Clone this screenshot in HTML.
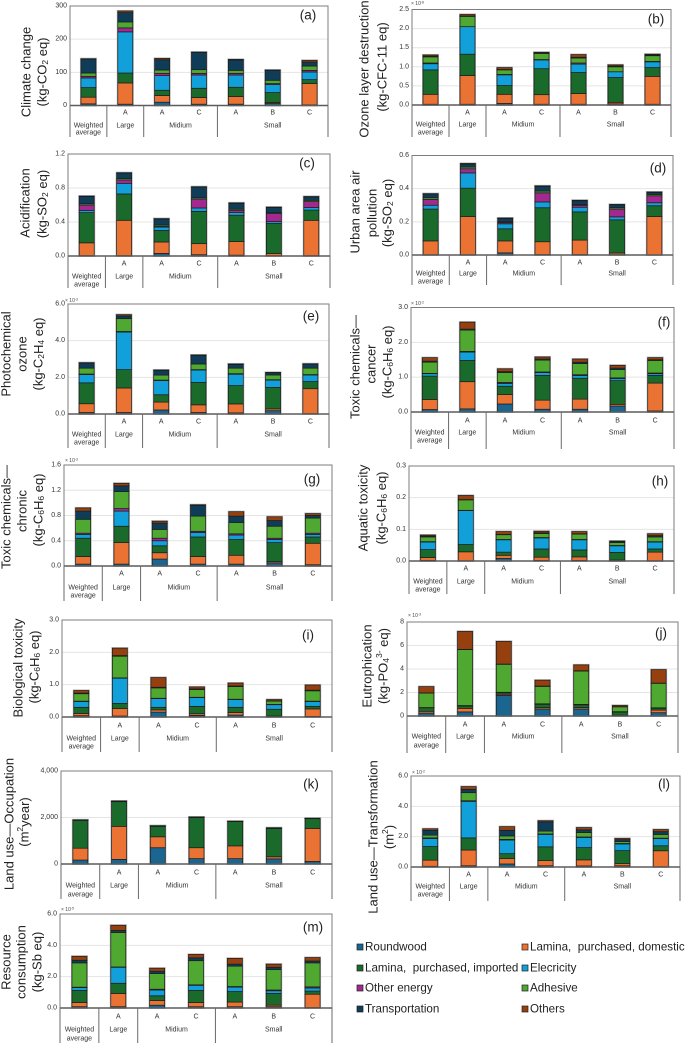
<!DOCTYPE html>
<html lang="en">
<head>
<meta charset="utf-8">
<title>Life cycle impact charts</title>
<style>
html,body{margin:0;padding:0;background:#fff;width:685px;height:1043px;overflow:hidden}
svg{display:block;font-family:"Liberation Sans",sans-serif}
.t{font-size:13px;fill:#222;text-anchor:middle;dominant-baseline:central}
.s{font-size:8.5px}
.tag{font-size:13.5px;fill:#222;text-anchor:middle;dominant-baseline:central}
.mult{font-size:5px;fill:#444}
.mult tspan{font-size:3.5px}
.tick{font-size:7px;fill:#333;text-anchor:end;dominant-baseline:central}
.cat{font-size:7px;fill:#333;text-anchor:middle;dominant-baseline:central}
.leg{font-size:11.6px;fill:#222;dominant-baseline:central;white-space:pre}
</style>
</head>
<body>
<svg id="figure" width="685" height="1043" viewBox="0 0 685 1043" xmlns="http://www.w3.org/2000/svg">
<rect width="685" height="1043" fill="#fff"/>

<!-- y axis titles -->
<text class="t" transform="translate(26,72) rotate(-90)">Climate change</text>
<text class="t" transform="translate(42,72) rotate(-90)">(kg-CO<tspan class="s" dy="3">2</tspan><tspan dy="-3"> eq)</tspan></text>

<text class="t" transform="translate(364,69) rotate(-90)">Ozone layer destruction</text>
<text class="t" transform="translate(382,67) rotate(-90)">(kg-CFC-11 eq)</text>

<text class="t" transform="translate(25,203) rotate(-90)">Acidification</text>
<text class="t" transform="translate(42,204) rotate(-90)">(kg-SO<tspan class="s" dy="3">2</tspan><tspan dy="-3"> eq)</tspan></text>

<text class="t" transform="translate(355,212) rotate(-90)">Urban area air</text>
<text class="t" transform="translate(372,213) rotate(-90)">pollution</text>
<text class="t" transform="translate(387,213) rotate(-90)">(kg-SO<tspan class="s" dy="3">2</tspan><tspan dy="-3"> eq)</tspan></text>

<text class="t" transform="translate(6,354) rotate(-90)">Photochemical</text>
<text class="t" transform="translate(22,354) rotate(-90)">ozone</text>
<text class="t" transform="translate(38,354) rotate(-90)">(kg-C<tspan class="s" dy="3">2</tspan><tspan dy="-3">H</tspan><tspan class="s" dy="3">4</tspan><tspan dy="-3"> eq)</tspan></text>

<text class="t" transform="translate(355,367) rotate(-90)">Toxic chemicals—</text>
<text class="t" transform="translate(371,364) rotate(-90)">cancer</text>
<text class="t" transform="translate(387,362) rotate(-90)">(kg-C<tspan class="s" dy="3">6</tspan><tspan dy="-3">H</tspan><tspan class="s" dy="3">6</tspan><tspan dy="-3"> eq)</tspan></text>

<text class="t" transform="translate(6,517) rotate(-90)">Toxic chemicals—</text>
<text class="t" transform="translate(22,511) rotate(-90)">chronic</text>
<text class="t" transform="translate(38,510) rotate(-90)">(kg-C<tspan class="s" dy="3">6</tspan><tspan dy="-3">H</tspan><tspan class="s" dy="3">6</tspan><tspan dy="-3"> eq)</tspan></text>

<text class="t" transform="translate(363,508) rotate(-90)">Aquatic toxicity</text>
<text class="t" transform="translate(381,508) rotate(-90)">(kg-C<tspan class="s" dy="3">6</tspan><tspan dy="-3">H</tspan><tspan class="s" dy="3">6</tspan><tspan dy="-3"> eq)</tspan></text>

<text class="t" transform="translate(18,668) rotate(-90)">Biological toxicity</text>
<text class="t" transform="translate(34,667) rotate(-90)">(kg-C<tspan class="s" dy="3">6</tspan><tspan dy="-3">H</tspan><tspan class="s" dy="3">6</tspan><tspan dy="-3"> eq)</tspan></text>

<text class="t" transform="translate(367,666) rotate(-90)">Eutrophication</text>
<text class="t" transform="translate(383,666) rotate(-90)">(kg-PO<tspan class="s" dy="3">4</tspan><tspan class="s" dy="-7">3-</tspan><tspan dy="4"> eq)</tspan></text>

<text class="t" transform="translate(9,824) rotate(-90)">Land use—Occupation</text>
<text class="t" transform="translate(24,822) rotate(-90)">(m<tspan class="s" dy="-4">2</tspan><tspan dy="4">year)</tspan></text>

<text class="t" transform="translate(373,837) rotate(-90)">Land use—Transformation</text>
<text class="t" transform="translate(389,837) rotate(-90)">(m<tspan class="s" dy="-4">2</tspan><tspan dy="4">)</tspan></text>

<text class="t" transform="translate(6,962) rotate(-90)">Resource</text>
<text class="t" transform="translate(21,962) rotate(-90)">consumption</text>
<text class="t" transform="translate(37,962) rotate(-90)">(kg-Sb eq)</text>

<!-- scale multipliers -->
<text class="mult" x="411" y="5">× 10<tspan dy="-1.5">-8</tspan></text>
<text class="mult" x="65" y="302">× 10<tspan dy="-1.5">-3</tspan></text>
<text class="mult" x="411" y="305">× 10<tspan dy="-1.5">-2</tspan></text>
<text class="mult" x="65" y="462">× 10<tspan dy="-1.5">-3</tspan></text>
<text class="mult" x="408" y="617">× 10<tspan dy="-1.5">-3</tspan></text>
<text class="mult" x="412" y="774">× 10<tspan dy="-1.5">-2</tspan></text>
<text class="mult" x="61" y="911">× 10<tspan dy="-1.5">-5</tspan></text>

<g id="panels"></g>

<!-- panel tags -->
<text class="tag" x="308" y="15">(a)</text>
<text class="tag" x="656" y="19">(b)</text>
<text class="tag" x="307" y="163">(c)</text>
<text class="tag" x="658" y="168">(d)</text>
<text class="tag" x="311" y="316">(e)</text>
<text class="tag" x="664" y="322">(f)</text>
<text class="tag" x="312" y="479">(g)</text>
<text class="tag" x="660" y="481">(h)</text>
<text class="tag" x="308" y="635">(i)</text>
<text class="tag" x="661" y="633">(j)</text>
<text class="tag" x="311" y="784">(k)</text>
<text class="tag" x="664" y="784">(l)</text>
<text class="tag" x="313" y="927">(m)</text>

<!-- legend -->
<g>
<g><rect x="357" y="944" width="6" height="6" fill="#1b6690" stroke="#222" stroke-width=".7"/><text class="leg" x="365" y="947">Roundwood</text></g>
<g><rect x="522" y="944" width="6" height="6" fill="#ea7333" stroke="#222" stroke-width=".7"/><text class="leg" x="530" y="947">Lamina,  purchased, domestic</text></g>
<g><rect x="357" y="965" width="6" height="6" fill="#1a6b2b" stroke="#222" stroke-width=".7"/><text class="leg" x="365" y="968">Lamina,  purchased, imported</text></g>
<g><rect x="522" y="965" width="6" height="6" fill="#12a0da" stroke="#222" stroke-width=".7"/><text class="leg" x="530" y="968">Elecricity</text></g>
<g><rect x="357" y="985" width="6" height="6" fill="#a1298f" stroke="#222" stroke-width=".7"/><text class="leg" x="365" y="988">Other energy</text></g>
<g><rect x="522" y="985" width="6" height="6" fill="#4fa82f" stroke="#222" stroke-width=".7"/><text class="leg" x="530" y="988">Adhesive</text></g>
<g><rect x="357" y="1006" width="6" height="6" fill="#0f3c57" stroke="#222" stroke-width=".7"/><text class="leg" x="365" y="1009">Transportation</text></g>
<g><rect x="522" y="1006" width="6" height="6" fill="#96400f" stroke="#222" stroke-width=".7"/><text class="leg" x="530" y="1009">Others</text></g>
</g>
</svg>

<script>
// Categories shared by all panels
const barLabels = ['', 'A', 'A', 'C', 'A', 'B', 'C'];
const groupLabels = ['Weighted average', 'Large', 'Midium', 'Small'];
const groupSpans = [1, 1, 2, 3];
const seriesNames = ['roundwood', 'lamina-domestic', 'lamina-imported', 'electricity', 'other-energy', 'adhesive', 'transportation', 'others'];
const seriesColors = ['#1b6690', '#ea7333', '#1a6b2b', '#12a0da', '#a1298f', '#4fa82f', '#0f3c57', '#96400f'];

// Tick labels per panel
const ticksA = ['0', '100', '200', '300'];
const ticksB = ['0.0', '0.5', '1.0', '1.5', '2.0', '2.5'];
const ticksC = ['0.0', '0.4', '0.8', '1.2'];
const ticksD = ['0.0', '0.2', '0.4', '0.6'];
const ticksE = ['0.0', '2.0', '4.0', '6.0'];
const ticksF = ['0.0', '1.0', '2.0', '3.0'];
const ticksG = ['0.0', '0.4', '0.8', '1.2', '1.6'];
const ticksH = ['0.0', '0.1', '0.2', '0.3'];
const ticksI = ['0.0', '1.0', '2.0', '3.0'];
const ticksJ = ['0', '2', '4', '6', '8'];
const ticksK = ['0', '2,000', '4,000'];
const ticksL = ['0.0', '2.0', '4.0', '6.0'];
const ticksM = ['0.0', '2.0', '4.0', '6.0'];

// Stack tops: one row per bar, one running total per series
const stackTopsA = [
  [5, 25, 54, 83, 88, 98, 140, 141],
  [4, 68, 98, 222, 234, 252, 280, 285],
  [10, 30, 46, 90, 97, 107, 138, 142],
  [4, 24, 52, 92, 97, 108, 160, 161],
  [4, 27, 55, 92, 97, 106, 137, 139],
  [6, 9, 39, 63, 66, 76, 106, 107],
  [2, 66, 78, 101, 106, 119, 131, 136]
];
const stackTopsB = [
  [.02, .28, .92, 1.08, 1.1, 1.26, 1.28, 1.31],
  [.02, .77, 1.33, 2.05, 2.05, 2.32, 2.33, 2.37],
  [.04, .28, .51, .79, .8, .92, .93, .98],
  [.02, .27, .95, 1.18, 1.19, 1.35, 1.36, 1.38],
  [.02, .3, .85, 1.07, 1.1, 1.23, 1.25, 1.32],
  [.03, .07, .72, .87, .87, 1.0, 1.02, 1.05],
  [.02, .75, .98, 1.13, 1.14, 1.29, 1.31, 1.33]
];
const stackTopsC = [
  [.005, .155, .51, .535, .6, .615, .7, .705],
  [.005, .42, .73, .855, .895, .91, .975, .98],
  [.03, .165, .3, .34, .35, .365, .435, .44],
  [.015, .145, .525, .565, .67, .685, .81, .815],
  [.01, .17, .48, .51, .535, .55, .62, .625],
  [.005, .03, .385, .405, .5, .51, .57, .575],
  [.005, .42, .54, .57, .64, .655, .695, .7]
];
const stackTopsD = [
  [.002, .085, .277, .3, .335, .345, .368, .37],
  [.002, .232, .403, .495, .52, .53, .548, .552],
  [.013, .085, .158, .188, .195, .2, .22, .223],
  [.003, .08, .285, .32, .375, .385, .414, .417],
  [.003, .09, .26, .288, .3, .305, .327, .33],
  [.002, .012, .212, .23, .277, .285, .303, .305],
  [.001, .232, .297, .315, .357, .365, .377, .38]
];
const stackTopsE = [
  [.08, .56, 1.7, 2.15, 2.18, 2.5, 2.78, 2.8],
  [.08, 1.42, 2.42, 4.47, 4.5, 5.2, 5.35, 5.42],
  [.22, .65, 1.05, 1.82, 1.85, 2.12, 2.38, 2.4],
  [.08, .5, 1.72, 2.4, 2.42, 2.73, 3.2, 3.22],
  [.06, .55, 1.55, 2.17, 2.2, 2.5, 2.7, 2.73],
  [.18, .28, 1.45, 1.85, 1.87, 2.13, 2.25, 2.27],
  [.02, 1.38, 1.77, 2.13, 2.15, 2.5, 2.72, 2.74]
];
const stackTopsF = [
  [.07, .36, 1.03, 1.1, 1.11, 1.43, 1.46, 1.56],
  [.09, .87, 1.48, 1.72, 1.74, 2.35, 2.38, 2.58],
  [.23, .5, .74, .82, .85, 1.13, 1.16, 1.24],
  [.08, .34, 1.05, 1.13, 1.15, 1.49, 1.52, 1.58],
  [.08, .37, .97, 1.05, 1.07, 1.39, 1.43, 1.52],
  [.17, .22, .9, .96, .98, 1.22, 1.26, 1.34],
  [.03, .83, 1.05, 1.1, 1.12, 1.48, 1.5, 1.56]
];
const stackTopsG = [
  [.03, .15, .44, .5, .52, .74, .87, .92],
  [.03, .37, .63, .87, .91, 1.18, 1.27, 1.31],
  [.11, .21, .32, .4, .44, .58, .68, .71],
  [.03, .15, .46, .53, .55, .79, .96, .97],
  [.03, .17, .42, .49, .51, .69, .79, .86],
  [.05, .07, .37, .42, .44, .63, .72, .78],
  [.02, .36, .46, .5, .52, .76, .8, .83]
];
const stackTopsH = [
  [.002, .011, .036, .06, .061, .076, .079, .082],
  [.001, .029, .052, .159, .16, .193, .194, .207],
  [.008, .018, .028, .067, .068, .083, .084, .093],
  [.002, .012, .038, .073, .074, .087, .089, .094],
  [.002, .013, .035, .067, .068, .085, .086, .093],
  [.002, .003, .027, .048, .049, .058, .061, .063],
  [.001, .028, .038, .06, .061, .076, .08, .086]
];
const stackTopsI = [
  [.04, .11, .3, .48, .49, .72, .74, .82],
  [.03, .26, .42, 1.2, 1.21, 1.88, 1.9, 2.13],
  [.15, .22, .3, .57, .58, .9, .92, 1.22],
  [.05, .1, .33, .6, .61, .85, .87, .93],
  [.06, .14, .3, .54, .55, .94, .96, 1.05],
  [.03, .03, .24, .38, .39, .49, .5, .54],
  [.02, .25, .33, .48, .49, .81, .83, .99]
];
const stackTopsJ = [
  [.25, .4, .7, .7, .72, 1.95, 1.97, 2.5],
  [.35, .65, .85, .87, .89, 5.65, 5.67, 7.2],
  [1.75, 1.85, 1.98, 2.0, 2.02, 4.4, 4.42, 6.35],
  [.6, .72, 1.0, 1.02, 1.04, 2.52, 2.55, 3.05],
  [.6, .72, .95, .97, .99, 3.83, 3.85, 4.35],
  [.05, .07, .33, .35, .37, .78, .8, .9],
  [.28, .5, .66, .68, .7, 2.78, 2.8, 3.95]
];
const stackTopsK = [
  [170, 680, 1880, 1882, 1884, 1886, 1890, 1900],
  [200, 1620, 2680, 2684, 2688, 2692, 2700, 2710],
  [700, 1170, 1620, 1624, 1628, 1632, 1640, 1650],
  [230, 700, 2000, 2004, 2008, 2010, 2015, 2020],
  [230, 780, 1830, 1832, 1834, 1836, 1838, 1840],
  [220, 310, 1530, 1535, 1540, 1545, 1550, 1560],
  [110, 1530, 1950, 1954, 1958, 1960, 1965, 1970]
];
const stackTopsL = [
  [.05, .45, 1.35, 1.88, 1.92, 2.1, 2.42, 2.52],
  [.08, 1.12, 1.92, 4.33, 4.37, 4.9, 5.12, 5.3],
  [.2, .55, .88, 1.78, 1.82, 2.05, 2.42, 2.66],
  [.08, .42, 1.33, 2.15, 2.18, 2.37, 2.98, 3.05],
  [.07, .47, 1.28, 1.95, 1.98, 2.27, 2.45, 2.6],
  [.08, .22, 1.08, 1.52, 1.55, 1.68, 1.8, 1.88],
  [.02, 1.07, 1.4, 1.87, 1.9, 2.15, 2.33, 2.47]
];
const stackTopsM = [
  [.08, .35, 1.12, 1.3, 1.33, 2.88, 3.05, 3.3],
  [.08, .93, 1.58, 2.6, 2.62, 4.82, 4.95, 5.28],
  [.18, .48, .78, 1.15, 1.2, 2.2, 2.35, 2.54],
  [.08, .35, 1.12, 1.45, 1.48, 3.02, 3.2, 3.42],
  [.08, .38, 1.05, 1.33, 1.37, 2.67, 2.8, 3.17],
  [.08, .18, .93, 1.1, 1.15, 2.45, 2.6, 2.8],
  [.03, .88, 1.08, 1.28, 1.35, 2.88, 3.0, 3.22]
];

const SVGNS = 'http://www.w3.org/2000/svg';
const host = document.getElementById('panels');

function make(parent, tag, geometry, text) {
  const el = document.createElementNS(SVGNS, tag);
  for (const key in geometry) el.setAttribute(key, geometry[key]);
  if (text !== undefined) el.textContent = text;
  parent.appendChild(el);
  return el;
}

function drawPanel(id, box, tickLabels, stackTops) {
  const g = make(host, 'g', {});
  
  

  const tickValues = tickLabels.map(function (s) { return parseFloat(s.replace(/,/g, '')); });
  const axisMax = tickValues[tickValues.length - 1];
  const yScale = function (v) { return box.base - (v / axisMax) * (box.base - box.top); };
  const bandWidth = (box.right - box.left) / barLabels.length;
  const xScale = function (i) { return box.left + bandWidth * (i + 0.5); };
  const rows = box.rows || [8, 20.5, 28.5];

  // gridlines and tick labels
  tickLabels.forEach(function (label, i) {
    const y = yScale(tickValues[i]);
    if (i > 0 && i < tickLabels.length - 1) {
      const grid = make(g, 'line', { x1: box.left, x2: box.right, y1: y, y2: y, stroke: '#e4e4e4', 'stroke-width': 1 });
      
      
    }
    const tick = make(g, 'text', { class: 'tick', x: box.left - 3, y: y }, label);
    
    
  });

  // plot frame
  const frame = make(g, 'path', {
    d: 'M' + box.left + ' ' + box.base + 'V' + box.top + 'H' + box.right + 'V' + box.base,
    fill: 'none', stroke: '#7d7d7d', 'stroke-width': 1
  });
  
  

  // stacked bars
  stackTops.forEach(function (tops, i) {
    const barGroup = make(g, 'g', {});
    
    
    const bx = xScale(i) - 7.5;
    const halo = make(barGroup, 'rect', {
      x: bx, y: yScale(tops[tops.length - 1]), width: 15,
      height: box.base - yScale(tops[tops.length - 1]),
      fill: 'none', stroke: '#b3b3b3', 'stroke-width': 2
    });
    
    
    let previous = 0;
    tops.forEach(function (top, s) {
      const seg = make(barGroup, 'rect', {
        x: bx, y: yScale(top), width: 15,
        height: Math.max(0, yScale(previous) - yScale(top)),
        fill: seriesColors[s], stroke: '#1c1c1c', 'stroke-width': 0.7
      });
      
      
      previous = top;
    });
  });

  // baseline
  const baseline = make(g, 'line', { x1: box.left, x2: box.right, y1: box.base, y2: box.base, stroke: '#5c5c5c', 'stroke-width': 1.4 });
  
  

  // category table
  barLabels.forEach(function (label, i) {
    if (!label) return;
    const cat = make(g, 'text', { class: 'cat', x: xScale(i), y: box.base + rows[0] }, label);
    
    
  });
  let col = 0;
  const firstDiv = make(g, 'line', { x1: box.left, x2: box.left, y1: box.base, y2: box.bottom, stroke: '#6a6a6a', 'stroke-width': 1 });
  
  
  groupLabels.forEach(function (name, k) {
    const cx = box.left + bandWidth * (col + groupSpans[k] / 2);
    const words = k === 0 ? name.split(' ') : [name];
    words.forEach(function (word, w) {
      const lab = make(g, 'text', { class: 'cat', x: cx, y: box.base + rows[1 + w] }, word);
      
      
    });
    col += groupSpans[k];
    const dx = box.left + bandWidth * col;
    const div = make(g, 'line', { x1: dx, x2: dx, y1: box.base, y2: box.bottom, stroke: '#6a6a6a', 'stroke-width': 1 });
    
    
  });
}

drawPanel('a', { left: 70, right: 328, top: 6, base: 105.5, bottom: 137, rows: [7.5, 20.5, 27.5] }, ticksA, stackTopsA);
drawPanel('b', { left: 412, right: 671, top: 9.5, base: 105, bottom: 137, rows: [8, 20, 28] }, ticksB, stackTopsB);
drawPanel('c', { left: 68, right: 330, top: 154, base: 256, bottom: 288, rows: [8, 21, 29] }, ticksC, stackTopsC);
drawPanel('d', { left: 412, right: 673, top: 155.5, base: 255, bottom: 285, rows: [8, 19, 27] }, ticksD, stackTopsD);
drawPanel('e', { left: 68, right: 329, top: 304, base: 414, bottom: 448, rows: [8, 21, 29] }, ticksE, stackTopsE);
drawPanel('f', { left: 411, right: 674, top: 307.5, base: 412, bottom: 449, rows: [9, 21, 29] }, ticksF, stackTopsF);
drawPanel('g', { left: 64, right: 332, top: 465, base: 566, bottom: 601, rows: [8, 22, 30] }, ticksG, stackTopsG);
drawPanel('h', { left: 409, right: 674, top: 466, base: 561, bottom: 594, rows: [8, 21, 29] }, ticksH, stackTopsH);
drawPanel('i', { left: 62, right: 332, top: 620, base: 717, bottom: 752, rows: [9, 22, 30] }, ticksI, stackTopsI);
drawPanel('j', { left: 407, right: 678, top: 622, base: 716, bottom: 753, rows: [9, 21, 30] }, ticksJ, stackTopsJ);
drawPanel('k', { left: 61, right: 332, top: 771, base: 864, bottom: 899, rows: [9, 22, 31] }, ticksK, stackTopsK);
drawPanel('l', { left: 411, right: 680, top: 776, base: 867, bottom: 901, rows: [8, 20, 28] }, ticksL, stackTopsL);
drawPanel('m', { left: 60, right: 332, top: 914, base: 1008, bottom: 1043, rows: [9, 22, 31] }, ticksM, stackTopsM);
</script>
</body>
</html>
